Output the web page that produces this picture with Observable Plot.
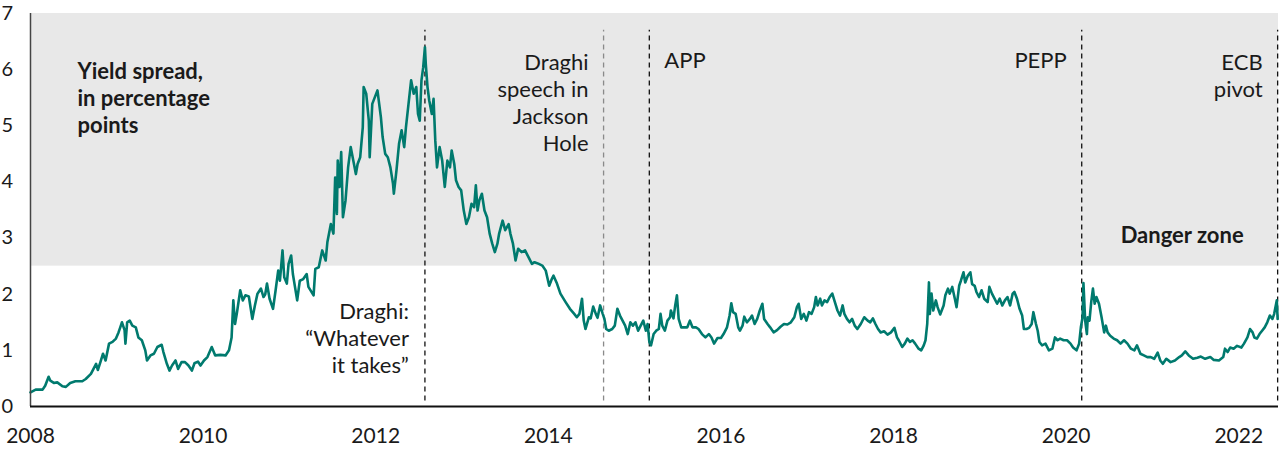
<!DOCTYPE html>
<html>
<head>
<meta charset="utf-8">
<script src="https://cdn.jsdelivr.net/npm/d3@7"></script>
<script src="https://cdn.jsdelivr.net/npm/@observablehq/plot@0.6"></script>
<style>
  html, body { margin: 0; padding: 0; background: #fff; }
  #chart svg { display: block; }
</style>
</head>
<body>
<div id="chart"></div>
<script>
// Decimal-year dates and yield spread (percentage points)
const dates = [
2008.00,2008.06,2008.14,2008.17,2008.21,2008.23,2008.27,2008.31,2008.37,2008.41,2008.46,2008.52,2008.60,2008.64,2008.70,2008.73,2008.76,2008.78,2008.81,2008.84,2008.87,2008.91,2008.95,2008.99,
2009.02,2009.04,2009.06,2009.09,2009.10,2009.12,2009.15,2009.18,2009.22,2009.25,2009.29,2009.33,2009.35,2009.39,2009.43,2009.47,2009.52,2009.54,2009.58,2009.61,2009.64,2009.68,2009.71,2009.75,2009.79,2009.83,2009.87,2009.90,2009.94,2009.97,
2010.01,2010.05,2010.10,2010.14,2010.20,2010.26,2010.30,2010.33,2010.35,2010.37,2010.39,2010.43,2010.46,2010.49,2010.53,2010.57,2010.60,2010.63,2010.67,2010.70,2010.72,2010.74,2010.77,2010.81,2010.84,2010.87,2010.89,2010.92,2010.94,2010.97,2010.99,
2011.02,2011.04,2011.09,2011.12,2011.16,2011.20,2011.22,2011.28,2011.30,2011.34,2011.38,2011.42,2011.44,2011.48,2011.51,2011.53,2011.55,2011.56,2011.58,2011.60,2011.62,2011.65,2011.68,2011.71,2011.74,2011.77,2011.79,2011.82,2011.85,2011.86,2011.89,2011.92,2011.93,2011.96,2011.99,
2012.02,2012.06,2012.08,2012.11,2012.14,2012.17,2012.20,2012.21,2012.24,2012.27,2012.30,2012.33,2012.35,2012.38,2012.41,2012.44,2012.47,2012.49,2012.51,2012.53,2012.55,2012.57,2012.58,2012.60,2012.62,2012.65,2012.67,2012.69,2012.71,2012.74,2012.77,2012.80,2012.83,2012.86,2012.88,2012.91,2012.93,2012.96,2012.99,
2013.02,2013.05,2013.08,2013.11,2013.14,2013.16,2013.18,2013.20,2013.23,2013.26,2013.29,2013.32,2013.35,2013.38,2013.41,2013.43,2013.47,2013.50,2013.54,2013.56,2013.59,2013.62,2013.65,2013.69,2013.73,2013.77,2013.81,2013.84,2013.89,2013.93,2013.97,
2014.01,2014.04,2014.06,2014.10,2014.14,2014.20,2014.25,2014.30,2014.33,2014.36,2014.39,2014.41,2014.43,2014.47,2014.49,2014.52,2014.55,2014.57,2014.60,2014.63,2014.65,2014.67,2014.70,2014.74,2014.77,2014.80,2014.83,2014.86,2014.89,2014.92,2014.95,2014.98,
2015.01,2015.04,2015.07,2015.10,2015.13,2015.15,2015.17,2015.19,2015.22,2015.25,2015.28,2015.30,2015.32,2015.35,2015.38,2015.41,2015.42,2015.45,2015.47,2015.49,2015.51,2015.54,2015.57,2015.61,2015.64,2015.67,2015.71,2015.74,2015.78,2015.82,2015.86,2015.89,2015.92,2015.96,
2016.00,2016.03,2016.07,2016.10,2016.12,2016.14,2016.17,2016.20,2016.22,2016.25,2016.27,2016.30,2016.34,2016.36,2016.39,2016.42,2016.45,2016.48,2016.50,2016.54,2016.57,2016.61,2016.65,2016.69,2016.73,2016.77,2016.81,2016.85,2016.88,2016.90,2016.93,2016.96,2016.99,
2017.02,2017.05,2017.08,2017.10,2017.12,2017.15,2017.17,2017.20,2017.23,2017.26,2017.29,2017.32,2017.35,2017.38,2017.41,2017.43,2017.46,2017.49,2017.52,2017.55,2017.58,2017.62,2017.66,2017.70,2017.73,2017.76,2017.79,2017.82,2017.85,2017.89,2017.93,2017.97,
2018.01,2018.04,2018.06,2018.10,2018.13,2018.16,2018.19,2018.22,2018.25,2018.29,2018.32,2018.35,2018.37,2018.39,2018.41,2018.42,2018.44,2018.46,2018.49,2018.51,2018.54,2018.58,2018.60,2018.63,2018.65,2018.68,2018.71,2018.73,2018.76,2018.78,2018.81,2018.83,2018.86,2018.89,2018.91,2018.94,2018.96,2018.99,
2019.02,2019.05,2019.09,2019.11,2019.14,2019.17,2019.20,2019.23,2019.26,2019.29,2019.32,2019.35,2019.38,2019.40,2019.43,2019.46,2019.49,2019.51,2019.54,2019.57,2019.60,2019.62,2019.65,2019.67,2019.69,2019.72,2019.76,2019.80,2019.84,2019.87,2019.90,2019.93,2019.97,
2020.01,2020.05,2020.08,2020.12,2020.15,2020.17,2020.19,2020.20,2020.22,2020.24,2020.25,2020.27,2020.29,2020.31,2020.33,2020.35,2020.38,2020.41,2020.44,2020.46,2020.48,2020.51,2020.55,2020.59,2020.63,2020.67,2020.71,2020.75,2020.79,2020.82,2020.86,2020.90,2020.94,2020.98,
2021.02,2021.06,2021.09,2021.12,2021.16,2021.21,2021.26,2021.31,2021.34,2021.38,2021.42,2021.47,2021.52,2021.56,2021.61,2021.67,2021.71,2021.77,2021.82,2021.84,2021.87,2021.90,2021.94,2021.98,
2022.03,2022.06,2022.10,2022.13,2022.16,2022.18,2022.21,2022.24,2022.27,2022.30,2022.33,2022.36,2022.39,2022.41,2022.44,2022.45
];
const spread = [
0.25,0.30,0.30,0.37,0.53,0.46,0.42,0.43,0.36,0.35,0.42,0.45,0.45,0.49,0.58,0.67,0.76,0.65,0.79,0.94,0.82,1.12,1.15,1.21,
1.32,1.41,1.50,1.36,1.12,1.50,1.53,1.44,1.41,1.23,1.18,1.00,0.82,0.91,0.94,1.06,1.10,0.97,0.76,0.64,0.73,0.82,0.67,0.79,0.79,0.73,0.64,0.77,0.80,0.73,
0.82,0.88,1.06,0.91,0.92,0.91,1.00,1.23,1.89,1.47,1.65,2.07,1.89,1.98,1.96,1.56,1.80,2.01,2.10,1.95,2.00,2.19,1.92,1.74,2.07,2.42,2.24,2.78,2.30,2.19,2.54,
2.69,2.36,1.89,2.24,2.27,2.36,2.13,1.98,2.45,2.48,2.78,2.60,2.93,3.25,3.08,4.08,3.43,4.38,3.91,4.53,3.37,3.67,4.26,4.62,4.38,4.14,4.32,4.44,4.97,5.69,5.57,5.09,4.44,5.39,5.51,
5.63,5.15,4.80,4.50,4.44,4.26,3.97,3.79,4.20,4.68,4.92,4.62,4.97,5.39,5.81,5.57,5.69,5.21,5.09,5.81,6.04,6.40,6.10,5.69,5.45,5.21,5.48,4.74,4.26,4.62,4.38,3.91,4.38,4.26,4.56,4.32,4.03,3.91,3.85,
3.49,3.25,3.37,3.61,3.55,3.94,3.49,3.67,3.79,3.49,3.37,3.08,2.90,2.75,2.90,3.08,3.31,3.14,3.25,3.08,2.90,2.60,2.81,2.75,2.78,2.66,2.54,2.57,2.54,2.51,2.42,
2.15,2.27,2.33,2.19,2.01,1.86,1.74,1.65,1.59,1.65,1.92,1.53,1.38,1.59,1.57,1.78,1.65,1.58,1.80,1.65,1.56,1.38,1.35,1.38,1.44,1.74,1.62,1.53,1.44,1.29,1.50,1.44,
1.50,1.35,1.44,1.53,1.35,1.47,1.15,1.09,1.29,1.35,1.38,1.65,1.44,1.35,1.53,1.59,1.71,1.57,1.80,1.98,1.56,1.41,1.41,1.41,1.53,1.41,1.41,1.38,1.29,1.23,1.29,1.23,1.12,1.22,
1.22,1.29,1.41,1.62,1.84,1.68,1.65,1.41,1.35,1.44,1.60,1.50,1.57,1.62,1.47,1.56,1.71,1.83,1.56,1.47,1.41,1.32,1.36,1.42,1.47,1.46,1.50,1.59,1.77,1.83,1.56,1.65,1.53,
1.68,1.65,1.77,1.95,1.80,1.92,1.80,1.89,1.86,1.95,2.01,1.86,1.71,1.62,1.80,1.65,1.56,1.50,1.56,1.44,1.38,1.47,1.59,1.53,1.50,1.57,1.47,1.38,1.32,1.34,1.28,1.32,
1.40,1.23,1.18,1.06,1.12,1.21,1.15,1.18,1.12,1.03,1.00,1.09,1.18,1.47,2.21,1.65,2.01,1.71,1.89,1.77,1.64,1.80,1.98,2.10,2.01,2.13,1.92,1.77,2.15,2.24,2.39,2.21,2.33,2.39,2.18,2.15,2.04,1.95,
2.07,1.92,1.86,2.13,2.01,1.92,1.83,1.92,1.80,1.89,1.95,1.80,2.01,2.04,1.92,1.74,1.62,1.38,1.38,1.40,1.47,1.68,1.47,1.35,1.15,1.09,1.12,1.00,1.03,1.23,1.18,1.21,1.18,
1.18,1.12,1.05,1.00,1.12,1.41,1.59,2.20,1.53,1.29,1.59,1.53,1.86,2.10,1.83,1.95,1.83,1.59,1.32,1.44,1.32,1.26,1.21,1.18,1.12,1.18,1.12,1.03,1.00,1.09,0.94,0.91,0.88,0.88,
0.85,0.96,0.82,0.76,0.85,0.79,0.82,0.88,0.91,0.98,0.91,0.85,0.87,0.89,0.85,0.88,0.83,0.82,0.88,1.03,0.97,1.05,1.03,1.08,
1.05,1.12,1.23,1.38,1.32,1.23,1.21,1.29,1.35,1.41,1.50,1.62,1.56,1.65,1.89,1.56
];

const xTicks = [2008, 2010, 2012, 2014, 2016, 2018, 2020, 2022];
const yTicks = [0, 1, 2, 3, 4, 5, 6, 7];
const xDomain = [2008, 2022.46];
const dangerThreshold = 2.5;

// Policy events (decimal years)
const eventDates  = [2012.57, 2014.64, 2015.17, 2020.18, 2022.45];
const eventLabels = ["Draghi:\n\u201cWhatever\nit takes\u201d", "Draghi\nspeech in\nJackson\nHole", "APP", "PEPP", "ECB\npivot"];

const series = dates.map((d, i) => ({date: d, spread: spread[i]}));
const events = eventDates.map((d, i) => ({date: d, label: eventLabels[i]}));

const teal = "#007a6e";
const ink = "#1a1a1a";

const chart = Plot.plot({
  width: 1280,
  height: 450,
  marginLeft: 30,
  marginRight: 2,
  marginTop: 13,
  marginBottom: 44,
  style: {fontFamily: "Lato, sans-serif", fontSize: "20px", color: ink, background: "#fff", overflow: "visible"},
  x: {domain: xDomain, label: null},
  y: {domain: [0, 7], label: null, axis: null},
  marks: [
    Plot.rect([{}], {x1: xDomain[0], x2: xDomain[1], y1: dangerThreshold, y2: 7, fill: "#e8e8e8"}),
    Plot.ruleX(events.filter((d, i) => i !== 1), {x: "date", y1: 0.1, y2: 6.7, stroke: "#111", strokeWidth: 1.3, strokeDasharray: "5,4"}),
    Plot.ruleX(events.filter((d, i) => i === 1), {x: "date", y1: 0.1, y2: 6.7, stroke: "#8a8a8a", strokeWidth: 1.3, strokeDasharray: "5,4"}),
    Plot.line(series, {x: "date", y: "spread", stroke: teal, strokeWidth: 2.6, strokeLinejoin: "round"}),
    Plot.ruleX([xDomain[0]], {y1: 0, y2: 7, stroke: "#444", strokeWidth: 1.5}),
    Plot.ruleY([0], {stroke: "#111", strokeWidth: 2.2}),
    Plot.axisX({ticks: xTicks, tickFormat: d => String(d), tickSize: 0, tickPadding: 22, fontSize: 21, fill: ink, label: null}),
    // Y tick labels, left-aligned at the page edge
    Plot.text(yTicks, {x: xDomain[0], y: d => d, text: d => String(d), textAnchor: "start", dx: -29, fontSize: 20, fill: ink}),
    // Event labels
    Plot.text([events[0]], {x: "date", y: 1.23, text: "label", textAnchor: "end", dx: -16, fontSize: 22, lineHeight: 1.23, fill: ink}),
    Plot.text([events[1]], {x: "date", y: 5.43, text: "label", textAnchor: "end", dx: -15, fontSize: 22, lineHeight: 1.23, fill: ink}),
    Plot.text([events[2]], {x: "date", y: 6.16, text: "label", textAnchor: "start", dx: 15, fontSize: 22, fill: ink}),
    Plot.text([events[3]], {x: "date", y: 6.16, text: "label", textAnchor: "end", dx: -15, fontSize: 22, fill: ink}),
    Plot.text([events[4]], {x: "date", y: 5.91, text: "label", textAnchor: "end", dx: -15, fontSize: 22, lineHeight: 1.23, fill: ink}),
    // Bold labels
    Plot.text(["Yield spread,\nin percentage\npoints"], {x: xDomain[0], y: 5.5, text: d => d, textAnchor: "start", dx: 47, fontSize: 22, fontWeight: "bold", lineHeight: 1.23, fill: ink}),
    Plot.text(["Danger zone"], {x: eventDates[4], y: 3.03, text: d => d, textAnchor: "end", dx: -34, fontSize: 22, fontWeight: "bold", fill: ink})
  ]
});
document.getElementById("chart").appendChild(chart);
</script>
</body>
</html>
